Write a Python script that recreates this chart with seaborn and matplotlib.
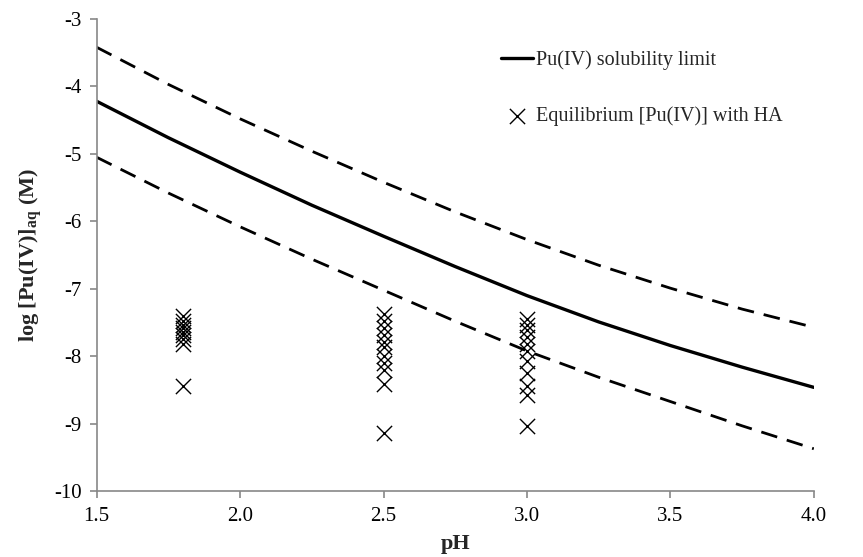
import numpy as np
import pandas as pd
import matplotlib
matplotlib.use("Agg")
import matplotlib.pyplot as plt
import seaborn as sns

# solubility curve
ph_curve = [1.5, 1.75, 2.0, 2.25, 2.5, 2.75, 3.0, 3.25, 3.5, 3.75, 4.0]
limit = [-4.22, -4.76, -5.27, -5.76, -6.22, -6.67, -7.10, -7.49, -7.84, -8.16, -8.46]
limit_upper = [-3.42, -3.97, -4.48, -4.96, -5.42, -5.86, -6.27, -6.65, -6.99, -7.30, -7.57]
limit_lower = [-5.05, -5.58, -6.08, -6.56, -7.02, -7.48, -7.92, -8.31, -8.67, -9.03, -9.37]

# measured equilibrium [Pu(IV)] with HA
ph_18 = [-7.40, -7.47, -7.53, -7.58, -7.64, -7.69, -7.74, -7.81, -8.44]
ph_25 = [-7.37, -7.47, -7.58, -7.68, -7.79, -7.86, -7.99, -8.10, -8.20, -8.41, -9.14]
ph_30 = [-7.45, -7.53, -7.61, -7.72, -7.81, -7.92, -8.07, -8.25, -8.44, -8.57, -9.04]

x_ticks = [1.5, 2.0, 2.5, 3.0, 3.5, 4.0]


def main():

    sns.set_style("white")
    plt.rcParams["font.family"] = ["Liberation Serif", "DejaVu Serif"]
    plt.rcParams["mathtext.fontset"] = "custom"
    plt.rcParams["mathtext.rm"] = "Liberation Serif"
    plt.rcParams["mathtext.bf"] = "Liberation Serif:bold"
    plt.rcParams["axes.unicode_minus"] = False

    curve = pd.DataFrame({"pH": ph_curve, "mid": limit, "hi": limit_upper, "lo": limit_lower})
    points = pd.DataFrame({
        "pH": [1.8] * len(ph_18) + [2.5] * len(ph_25) + [3.0] * len(ph_30),
        "logPu": ph_18 + ph_25 + ph_30,
    })

    fig, ax = plt.subplots(figsize=(8.63, 5.57), dpi=100)

    sns.lineplot(data=curve, x="pH", y="mid", color="black", linewidth=2.4,
                 label="Pu(IV) solubility limit", ax=ax)
    sns.lineplot(data=curve, x="pH", y="hi", color="black", linewidth=2.0,
                 ax=ax).lines[-1].set_dashes([6, 3.6])
    sns.lineplot(data=curve, x="pH", y="lo", color="black", linewidth=2.0,
                 ax=ax).lines[-1].set_dashes([6, 3.6])
    sns.scatterplot(data=points, x="pH", y="logPu", marker="x", color="black",
                    s=120, linewidth=1.0, label="Equilibrium [Pu(IV)] with HA", ax=ax)

    ax.set_xlim(1.5, 4.0)
    ax.set_ylim(-10, -3)
    ax.set_xticks(x_ticks)
    ax.set_xticklabels([f"{v:.1f}" for v in x_ticks])
    ax.set_yticks(range(-10, -2))

    for side in ["top", "right"]:
        ax.spines[side].set_visible(False)
    for side in ["left", "bottom"]:
        ax.spines[side].set_color("#888888")
        ax.spines[side].set_linewidth(1.2)
    ax.tick_params(axis="both", direction="out", length=5, width=1.2,
                   color="#888888", labelsize=15, labelcolor="black",
                   left=True, bottom=True, pad=6)

    ax.set_xlabel("pH", fontsize=16, fontweight="bold", labelpad=6)
    ax.set_ylabel(r"log [Pu(IV)]$_{\mathbf{aq}}$ (M)", fontsize=16, fontweight="bold", labelpad=6)

    ax.legend(loc="upper left", bbox_to_anchor=(0.55, 0.955), frameon=False, borderpad=0,
              fontsize=14.5, labelspacing=1.8, handlelength=1.6, handletextpad=0.15)

    fig.subplots_adjust(left=0.112, right=0.943, top=0.966, bottom=0.118)
    fig.savefig("out.png", dpi=100)


if __name__ == "__main__":
    main()
